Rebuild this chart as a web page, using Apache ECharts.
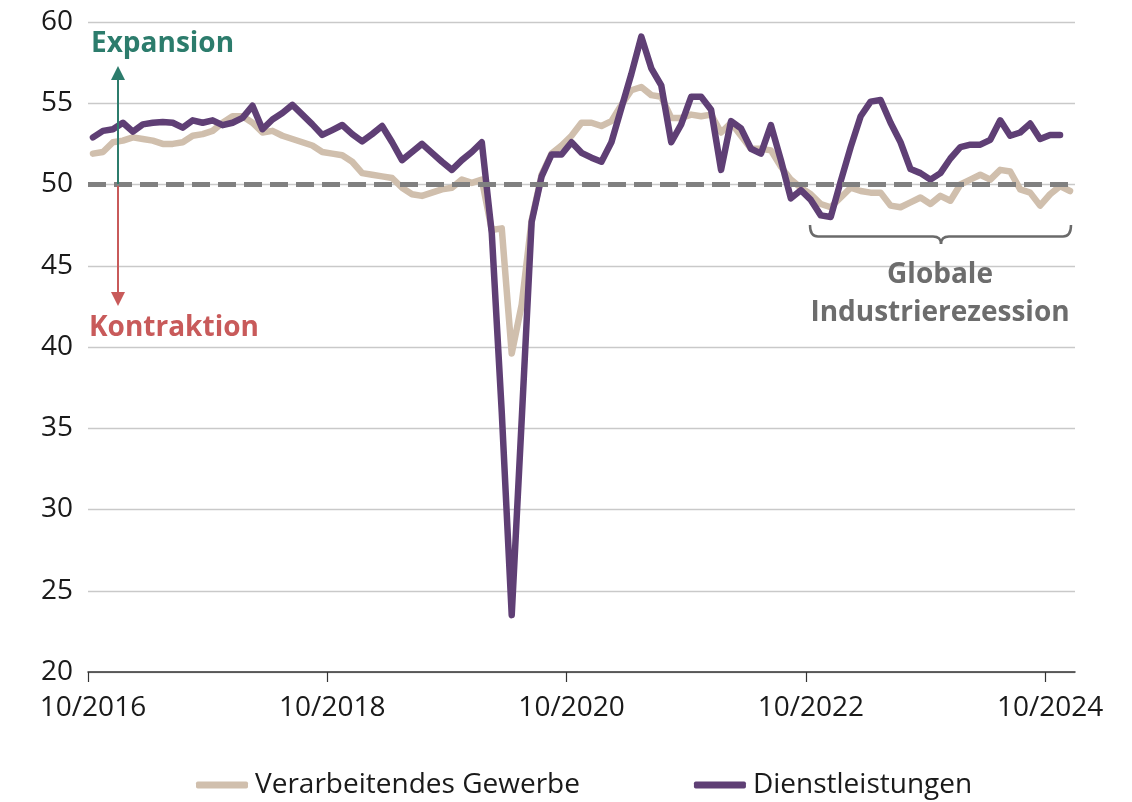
<!DOCTYPE html>
<html>
<head>
<meta charset="utf-8">
<script src="https://cdn.jsdelivr.net/npm/echarts@6/dist/echarts.min.js"></script>
<style>
html,body{margin:0;padding:0;background:#fff;}
#chart{width:1132px;height:802px;}
</style>
</head>
<body>
<div id="chart"></div>
<script>
// Monthly data, first month = 10/2016
const startYear = 2016;
const startMonth = 10;
const seriesNames = ['Verarbeitendes Gewerbe', 'Dienstleistungen'];

const manufacturing = [
  51.9, 52.0, 52.6, 52.7, 52.9, 52.8, 52.7, 52.5, 52.5, 52.6, 53.0, 53.1,
  53.3, 53.8, 54.2, 54.2, 53.8, 53.2, 53.3, 53.0, 52.8, 52.6, 52.4, 52.0,
  51.9, 51.8, 51.4, 50.7, 50.6, 50.5, 50.4, 49.8, 49.4, 49.3, 49.5, 49.7,
  49.8, 50.3, 50.1, 50.3, 47.2, 47.3, 39.6, 42.6, 47.8, 50.6, 51.9, 52.4,
  53.0, 53.8, 53.8, 53.6, 53.9, 54.9, 55.8, 56.0, 55.5, 55.4, 54.1, 54.1,
  54.3, 54.2, 54.3, 53.2, 53.8, 53.0, 52.2, 52.2, 52.1, 51.1, 50.3, 49.8,
  49.4, 48.8, 48.6, 49.2, 49.8, 49.6, 49.5, 49.5, 48.7, 48.6, 48.9, 49.2,
  48.8, 49.3, 49.0, 50.0, 50.3, 50.6, 50.3, 50.9, 50.8, 49.7, 49.5, 48.7,
  49.4, 49.9, 49.6
];

const services = [
  52.9, 53.3, 53.4, 53.8, 53.25, 53.7, 53.8, 53.85, 53.8, 53.5, 53.95, 53.8,
  53.95, 53.65, 53.8, 54.1, 54.85, 53.4, 54.0, 54.4, 54.9, 54.3, 53.7, 53.05,
  53.35, 53.66, 53.1, 52.65, 53.1, 53.6, 52.6, 51.5, 52.0, 52.5, 51.95, 51.4,
  50.9, 51.5, 52.0, 52.6, 47.0, 36.0, 23.5, 35.5, 47.7, 50.5, 51.85, 51.85,
  52.6, 51.95, 51.65, 51.4, 52.6, 54.7, 56.8, 59.1, 57.15, 56.1, 52.6, 53.7,
  55.4, 55.4, 54.6, 50.9, 53.9, 53.45, 52.2, 51.9, 53.65, 51.5, 49.15, 49.65,
  49.05, 48.1, 48.0, 50.2, 52.3, 54.2, 55.1, 55.2, 53.8, 52.6, 50.95, 50.7,
  50.3, 50.7, 51.6, 52.3, 52.45, 52.45, 52.75, 53.95, 53.0, 53.2, 53.75, 52.8,
  53.05, 53.05
];

const xTickLabels = ['10/2016', '10/2018', '10/2020', '10/2022', '10/2024'];
const yMin = 20, yMax = 60, yStep = 5;
const threshold = 50;

// month offset (from start month) of a "MM/YYYY" label
function monthOffset(label) {
  const [m, y] = label.split('/').map(Number);
  return (y - startYear) * 12 + (m - startMonth);
}
const tickOffsets = xTickLabels.map(monthOffset);
const xMax = manufacturing.length; // axis covers every month band
// each monthly value sits in the middle of its month band
const toPoints = arr => arr.map((v, i) => [i + 0.5, v]);

const FONT = '"Open Sans", "Noto Sans", sans-serif';
const TEAL = '#2c7c6c';
const RED = '#c85a5a';
const GREY_TXT = '#6d6d6d';
const BRACE = {stroke: '#6a6a6a', lineWidth: 2.5, fill: null};

const chart = echarts.init(document.getElementById('chart'), null, {renderer: 'canvas'});

chart.setOption({
  animation: false,
  backgroundColor: '#ffffff',
  grid: {left: 88, right: 57, top: 22, bottom: 130, containLabel: false},
  legend: {
    data: seriesNames,
    left: 196,
    top: 771,
    padding: 0,
    icon: 'roundRect',
    itemWidth: 52,
    itemHeight: 7,
    itemGap: 114,
    textStyle: {fontFamily: FONT, fontSize: 28, color: '#1a1a1a', padding: [0, 0, 0, 2]}
  },
  xAxis: {
    type: 'value',
    min: 0,
    max: xMax,
    splitLine: {show: false},
    axisLine: {show: true, lineStyle: {color: '#333333', width: 1.5}},
    axisTick: {show: true, length: 10, customValues: tickOffsets, lineStyle: {color: '#333333', width: 1.2}},
    axisLabel: {
      customValues: tickOffsets.map(v => v + 0.5),
      formatter: function (v) {
        const idx = tickOffsets.indexOf(Math.floor(v));
        return idx >= 0 ? xTickLabels[idx] : '';
      },
      margin: 22,
      fontFamily: FONT,
      fontSize: 28,
      color: '#1a1a1a'
    }
  },
  yAxis: {
    type: 'value',
    min: yMin,
    max: yMax,
    interval: yStep,
    axisLine: {show: false},
    axisTick: {show: false},
    splitLine: {show: true, lineStyle: {color: '#c9c9c9', width: 1.3}},
    axisLabel: {margin: 15, fontFamily: FONT, fontSize: 28, color: '#1a1a1a'}
  },
  series: [
    {
      name: seriesNames[0],
      type: 'line',
      data: toPoints(manufacturing),
      showSymbol: false,
      symbol: 'none',
      z: 2,
      itemStyle: {color: '#d0bfad'},
      lineStyle: {color: '#d0bfad', width: 6.5, join: 'round', cap: 'round'},
      markLine: {
        silent: true,
        symbol: ['none', 'none'],
        label: {show: false},
        lineStyle: {color: '#808080', width: 5, type: [18, 8]},
        data: [{yAxis: threshold}]
      }
    },
    {
      name: seriesNames[1],
      type: 'line',
      data: toPoints(services),
      showSymbol: false,
      symbol: 'none',
      z: 3,
      itemStyle: {color: '#5f3f75'},
      lineStyle: {color: '#5f3f75', width: 6.5, join: 'round', cap: 'round'}
    }
  ],
  graphic: [
    {type: 'line', shape: {x1: 118, y1: 184, x2: 118, y2: 78}, style: {stroke: TEAL, lineWidth: 2}, z: 10},
    {type: 'polygon', shape: {points: [[118, 66], [111, 80], [125, 80]]}, style: {fill: TEAL}, z: 10},
    {type: 'line', shape: {x1: 118, y1: 186, x2: 118, y2: 294}, style: {stroke: RED, lineWidth: 2}, z: 10},
    {type: 'polygon', shape: {points: [[118, 306], [111, 292], [125, 292]]}, style: {fill: RED}, z: 10},
    {type: 'text', x: 91, y: 44, z: 10, style: {text: 'Expansion', font: 'bold 28px ' + FONT, fill: TEAL, align: 'left', verticalAlign: 'middle'}},
    {type: 'text', x: 89, y: 328, z: 10, style: {text: 'Kontraktion', font: 'bold 28px ' + FONT, fill: RED, align: 'left', verticalAlign: 'middle'}},
    // curly brace under the recession period
    {type: 'bezierCurve', z: 10, shape: {x1: 810, y1: 225, cpx1: 810, cpy1: 236.5, x2: 818, y2: 236.5}, style: BRACE},
    {type: 'line', z: 10, shape: {x1: 818, y1: 236.5, x2: 933, y2: 236.5}, style: BRACE},
    {type: 'bezierCurve', z: 10, shape: {x1: 933, y1: 236.5, cpx1: 941, cpy1: 236.5, x2: 941, y2: 244}, style: BRACE},
    {type: 'bezierCurve', z: 10, shape: {x1: 941, y1: 244, cpx1: 941, cpy1: 236.5, x2: 949, y2: 236.5}, style: BRACE},
    {type: 'line', z: 10, shape: {x1: 949, y1: 236.5, x2: 1063, y2: 236.5}, style: BRACE},
    {type: 'bezierCurve', z: 10, shape: {x1: 1063, y1: 236.5, cpx1: 1071, cpy1: 236.5, x2: 1071, y2: 225}, style: BRACE},
    {type: 'text', x: 940, y: 256, z: 10, style: {text: 'Globale\nIndustrierezession', font: 'bold 28px ' + FONT, fill: GREY_TXT, align: 'center', verticalAlign: 'top', lineHeight: 38}}
  ]
});
</script>
</body>
</html>
